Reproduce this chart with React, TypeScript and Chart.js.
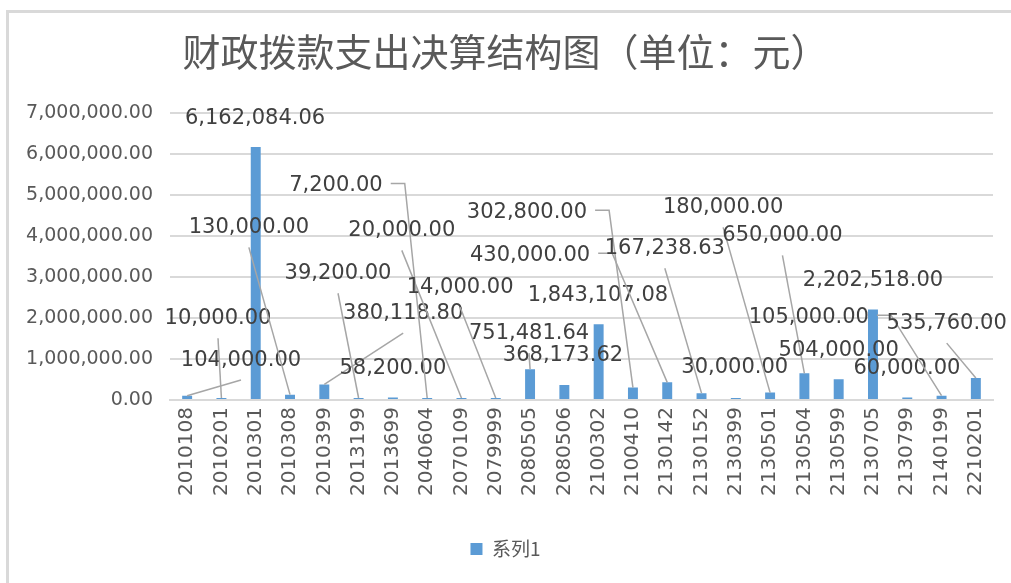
import React, { useEffect, useRef } from "react";
import { Chart, registerables } from "chart.js";

Chart.register(...registerables);

const categories = [
  "2010108", "2010201", "2010301", "2010308", "2010399", "2013199",
  "2013699", "2040604", "2070109", "2079999", "2080505", "2080506",
  "2100302", "2100410", "2130142", "2130152", "2130399", "2130501",
  "2130504", "2130599", "2130705", "2130799", "2140199", "2210201",
];

const values = [
  104000, 10000, 6162084.06, 130000, 380118.8, 39200,
  58200, 7200, 20000, 14000, 751481.64, 368173.62,
  1843107.08, 302800, 430000, 167238.63, 30000, 180000,
  650000, 504000, 2202518, 60000, 105000, 535760,
];

const yTickValues = [0, 1000000, 2000000, 3000000, 4000000, 5000000, 6000000, 7000000];

// label placement (category-offset, value-space height), as placed in the original
const labelOffsetX = [
  1.57, -0.1, -0.02, -1.2, 2.3, -0.6,
  0, -2.66, -1.74, -1.04, -0.03, -0.04,
  -0.02, -3.09, -4.0, -1.07, -0.03, -1.37,
  -0.64, 0, 0, -0.01, -3.87, -0.85,
];
const labelY = [
  972000, 1993000, 6855000, 4205000, 2115000, 3087000,
  778000, 5226000, 4132000, 2747000, 1629000, 1094000,
  2552000, 4570000, 3525000, 3695000, 802000, 4691000,
  4011000, 1215000, 2917000, 778000, 2017000, 1872000,
];
const labelLeader = [
  true, true, false, true, true, true,
  false, true, true, true, true, false,
  false, true, true, true, false, true,
  true, false, false, false, true, true,
];

const fmt = (v: number) =>
  v.toLocaleString("en-US", { minimumFractionDigits: 2, maximumFractionDigits: 2 });

const dataLabelPlugin = {
  id: "dataLabels",
  afterDatasetsDraw(chart: any) {
    const { ctx } = chart;
    const meta = chart.getDatasetMeta(0);
    const xs = chart.scales.x;
    const ys = chart.scales.y;
    ctx.save();
    ctx.font = "21px 'DejaVu Sans'";
    ctx.textAlign = "center";
    ctx.textBaseline = "middle";
    meta.data.forEach((bar: any, i: number) => {
      const text = fmt(values[i]);
      const lx = xs.getPixelForValue(i + labelOffsetX[i]);
      const ly = ys.getPixelForValue(labelY[i]);
      const w = ctx.measureText(text).width;
      if (labelLeader[i]) {
        ctx.strokeStyle = "#a6a6a6";
        ctx.lineWidth = 1.5;
        ctx.beginPath();
        const right = lx + w / 2;
        if (bar.x > right + 20) {
          ctx.moveTo(right + 8, ly - 2);
          ctx.lineTo(right + 22, ly - 2);
        } else {
          ctx.moveTo(lx, ly + 20);
        }
        ctx.lineTo(bar.x, bar.y);
        ctx.stroke();
      }
      ctx.fillStyle = "#404040";
      ctx.fillText(text, lx, ly);
    });
    ctx.restore();
  },
};

export default function App() {
  const ref = useRef<HTMLCanvasElement>(null);
  useEffect(() => {
    document.body.style.margin = "0";
    const chart = new Chart(ref.current!, {
      type: "bar",
      data: {
        labels: categories,
        datasets: [
          {
            label: "系列1",
            data: values,
            backgroundColor: "#5b9bd5",
            borderWidth: 0,
            barPercentage: 0.29,
            categoryPercentage: 1,
            minBarLength: 2,
          },
        ],
      },
      options: {
        animation: false,
        responsive: false,
        devicePixelRatio: 1,
        layout: { padding: { top: 0, right: 18, left: 18, bottom: 14.5 } },
        plugins: {
          title: {
            display: true,
            text: "财政拨款支出决算结构图（单位：元）",
            font: { family: "'Noto Sans CJK SC'", size: 38, weight: "normal" },
            color: "#595959",
            padding: { top: 29, bottom: 38 },
          },
          legend: {
            display: true,
            position: "bottom",
            labels: {
              font: { family: "'Noto Sans CJK SC'", size: 19 },
              color: "#595959",
              boxWidth: 12,
              boxHeight: 12,
              padding: 10,
            },
          },
          tooltip: { enabled: false },
        },
        scales: {
          x: {
            grid: { display: false, drawTicks: false },
            border: { display: true, color: "#d9d9d9", width: 2 },
            ticks: {
              minRotation: 90,
              maxRotation: 90,
              autoSkip: false,
              padding: 7,
              color: "#595959",
              font: { family: "'DejaVu Sans'", size: 20 },
            },
            afterFit(scale: any) {
              scale.height = 129.5;
            },
          },
          y: {
            min: 0,
            max: 7000000,
            afterBuildTicks(scale: any) {
              scale.ticks = yTickValues.map((v) => ({ value: v }));
            },
            grid: { color: "#d9d9d9", lineWidth: 2, drawTicks: false },
            border: { display: false },
            ticks: {
              padding: 17,
              color: "#595959",
              font: { family: "'DejaVu Sans'", size: 19 },
              callback: (v: any) => fmt(Number(v)),
            },
            afterFit(scale: any) {
              scale.width = 152;
            },
          },
        },
      },
      plugins: [dataLabelPlugin],
    });
    return () => chart.destroy();
  }, []);
  return (
    <div style={{ position: "relative", width: 1011, height: 583, overflow: "hidden", background: "#fff" }}>
      <div
        style={{
          position: "absolute",
          left: 6,
          top: 10,
          width: 1100,
          height: 700,
          borderLeft: "3px solid #d9d9d9",
          borderTop: "3px solid #d9d9d9",
        }}
      />
      <canvas ref={ref} width={1011} height={583} style={{ position: "absolute", left: 0, top: 0 }} />
    </div>
  );
}
